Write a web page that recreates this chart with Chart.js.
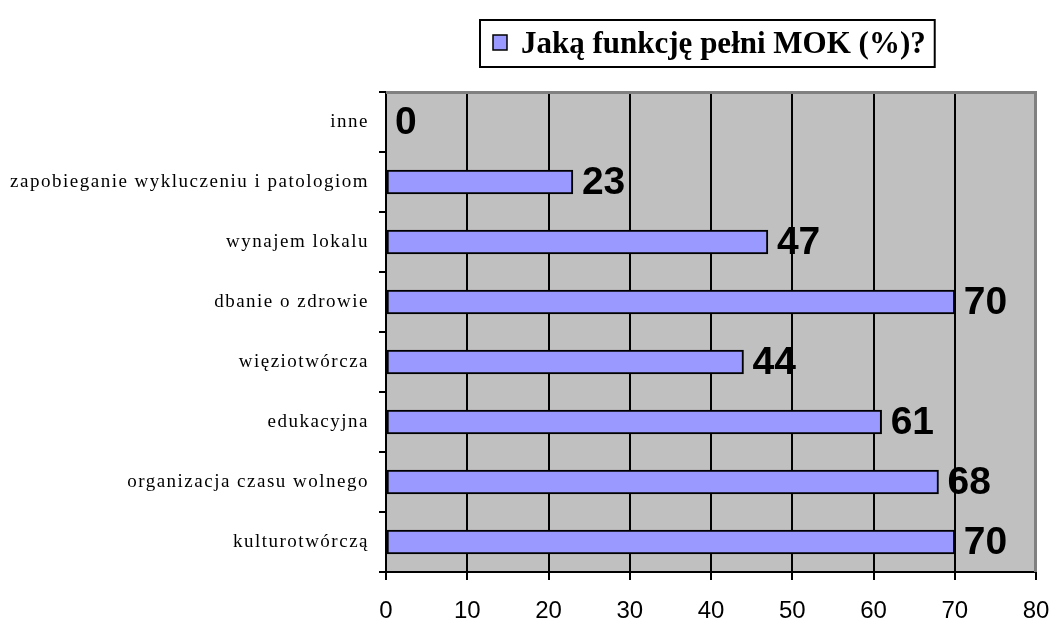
<!DOCTYPE html>
<html>
<head>
<meta charset="utf-8">
<script src="https://cdn.jsdelivr.net/npm/chart.js@4/dist/chart.umd.min.js"></script>
<style>
    html, body { margin: 0; padding: 0; background: #fff; }
    #wrap { width: 1052px; height: 618px; }
</style>
</head>
<body>
<div id="wrap"><canvas id="mokChart"></canvas></div>
<script>
// ---------- Data ----------
var categories = [
    'inne',
    'zapobieganie wykluczeniu i patologiom',
    'wynajem lokalu',
    'dbanie o zdrowie',
    'więziotwórcza',
    'edukacyjna',
    'organizacja czasu wolnego',
    'kulturotwórczą'
];
var percentValues = [0, 23, 47, 70, 44, 61, 68, 70];
var seriesLabel = 'Jaką funkcję pełni MOK (%)?';
var xMin = 0;
var xMax = 80;
var xStep = 10;

// Grey plot area behind grid
var plotBackground = {
    id: 'plotBackground',
    beforeDraw: function (chart) {
        var a = chart.chartArea, ctx = chart.ctx;
        ctx.save();
        ctx.fillStyle = '#c0c0c0';
        ctx.fillRect(a.left, a.top, a.right - a.left, a.bottom - a.top);
        ctx.restore();
    }
};

// Grey frame on top and right of plot area
var plotFrame = {
    id: 'plotFrame',
    beforeDatasetsDraw: function (chart) {
        var a = chart.chartArea, ctx = chart.ctx;
        ctx.save();
        ctx.strokeStyle = '#808080';
        ctx.lineWidth = 3;
        ctx.beginPath();
        ctx.moveTo(a.left, a.top + 0.5);
        ctx.lineTo(a.right - 0.5, a.top + 0.5);
        ctx.lineTo(a.right - 0.5, a.bottom);
        ctx.stroke();
        ctx.restore();
    }
};

// Category labels with letter spacing (Excel-style)
var categoryLabels = {
    id: 'categoryLabels',
    afterDraw: function (chart) {
        var ctx = chart.ctx, y = chart.scales.y;
        ctx.save();
        ctx.font = '19px "Liberation Serif", "Times New Roman", serif';
        ctx.letterSpacing = '1.5px';
        ctx.fillStyle = '#000';
        ctx.textAlign = 'right';
        ctx.textBaseline = 'middle';
        categories.forEach(function (label, i) {
            ctx.fillText(label, 369, y.getPixelForValue(i));
        });
        ctx.restore();
    }
};

// Value labels to the right of bars
var valueLabels = {
    id: 'valueLabels',
    afterDatasetsDraw: function (chart) {
        var ctx = chart.ctx, meta = chart.getDatasetMeta(0);
        ctx.save();
        ctx.font = 'bold 39px "Liberation Sans", Arial, sans-serif';
        ctx.fillStyle = '#000';
        ctx.textAlign = 'left';
        ctx.textBaseline = 'middle';
        meta.data.forEach(function (bar, i) {
            ctx.fillText(String(percentValues[i]), bar.x + 9, bar.y + 1);
        });
        ctx.restore();
    }
};

// Boxed legend at the top
var boxedLegend = {
    id: 'boxedLegend',
    afterDraw: function (chart) {
        var ctx = chart.ctx;
        ctx.save();
        ctx.font = 'bold 31px "Liberation Serif", "Times New Roman", serif';
        var textW = ctx.measureText(seriesLabel).width;
        var left = 480, top = 20, h = 47;
        var w = 40 + textW + 10;
        ctx.fillStyle = '#fff';
        ctx.fillRect(left, top, w, h);
        ctx.strokeStyle = '#000';
        ctx.lineWidth = 2;
        ctx.strokeRect(left, top, w, h);
        ctx.fillStyle = '#9999ff';
        ctx.fillRect(493, 35, 14, 15);
        ctx.lineWidth = 1.5;
        ctx.strokeRect(493, 35, 14, 15);
        ctx.fillStyle = '#000';
        ctx.textBaseline = 'alphabetic';
        ctx.fillText(seriesLabel, 521, 53);
        ctx.restore();
    }
};

new Chart(document.getElementById('mokChart').getContext('2d'), {
    type: 'bar',
    data: {
        labels: categories,
        datasets: [{
            label: seriesLabel,
            data: percentValues,
            backgroundColor: '#9999ff',
            borderColor: '#000',
            borderWidth: 2,
            borderSkipped: false,
            barThickness: 24
        }]
    },
    options: {
        indexAxis: 'y',
        responsive: true,
        maintainAspectRatio: false,
        devicePixelRatio: 1,
        animation: false,
        layout: { padding: { top: 92, right: 16, left: 0, bottom: 0 } },
        plugins: {
            legend: { display: false },
            tooltip: { enabled: false }
        },
        scales: {
            x: {
                min: xMin,
                max: xMax,
                ticks: {
                    stepSize: xStep,
                    color: '#000',
                    padding: 17,
                    font: { family: '"Liberation Sans", Arial, sans-serif', size: 24 }
                },
                grid: {
                    color: function (c) { return c.tick && c.tick.value === xMax ? 'rgba(0,0,0,0)' : '#000'; },
                    tickColor: '#000',
                    lineWidth: 2,
                    tickLength: 8
                },
                border: { color: '#000', width: 2 },
                afterFit: function (scale) {
                    scale.height = 46;
                    scale.paddingLeft = 0;
                    scale.paddingRight = 0;
                }
            },
            y: {
                ticks: {
                    color: 'rgba(0,0,0,0)',
                    font: { family: '"Liberation Serif", serif', size: 17 }
                },
                grid: {
                    drawOnChartArea: false,
                    drawTicks: true,
                    tickLength: 7,
                    color: '#000',
                    lineWidth: 2,
                    offset: true
                },
                border: { color: '#000', width: 2 },
                afterFit: function (scale) {
                    scale.width = 386;
                    scale.paddingTop = 0;
                    scale.paddingBottom = 0;
                }
            }
        }
    },
    plugins: [plotBackground, plotFrame, categoryLabels, valueLabels, boxedLegend]
});
</script>
</body>
</html>
